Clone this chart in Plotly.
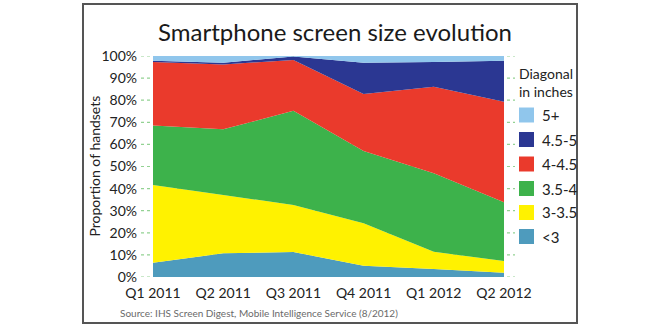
import plotly.graph_objects as go

quarters = ["Q1 2011", "Q2 2011", "Q3 2011", "Q4 2011", "Q1 2012", "Q2 2012"]
size_lt3 = [6.5, 10.7, 11.3, 5.1, 3.6, 1.9]
size_3_35 = [35.1, 26.4, 21.3, 19.2, 7.8, 5.3]
size_35_4 = [26.9, 29.7, 42.6, 32.7, 35.6, 26.6]
size_4_45 = [28.8, 29.4, 23.0, 25.8, 39.1, 45.5]
size_45_5 = [0.5, 0.7, 1.6, 14.2, 11.2, 18.6]
size_5p = [2.2, 3.1, 0.2, 3.0, 2.7, 2.1]

series_names = ["<3", "3-3.5", "3.5-4", "4-4.5", "4.5-5", "5+"]
series_values = [size_lt3, size_3_35, size_35_4, size_4_45, size_45_5, size_5p]
series_colors = ["#4e9bbd", "#fff200", "#3db24b", "#ea3a2c", "#2b3792", "#90c6ec"]

y_ticks = [0, 10, 20, 30, 40, 50, 60, 70, 80, 90, 100]
y_tick_text = [f"{v}%" for v in y_ticks]

FONT = "Lato"
# plot area in pixels
PL, PR, PT, PB = 153, 504, 56, 277


def px_x(p):
    return (p - PL) / (PR - PL)


def px_y(p):
    return (PB - p) / (PB - PT)


fig = go.Figure()

# stacked areas
for name, vals, col in zip(series_names, series_values, series_colors):
    fig.add_trace(go.Scatter(
        x=quarters, y=vals, name=name, stackgroup="one", mode="none",
        fill="tonexty", fillcolor=col, line=dict(width=0), showlegend=False,
        hoverinfo="x+y+name"))

# dashed green tick marks
for v in y_ticks:
    fig.add_shape(type="line", xref="paper", yref="y", x0=px_x(141), x1=px_x(515),
                  y0=v, y1=v, layer="below",
                  line=dict(color="#93d293", width=1.2, dash="3px,3px"))

# frame
fig.add_shape(type="rect", xref="paper", yref="paper",
              x0=px_x(83), x1=px_x(577), y0=px_y(323), y1=px_y(4),
              line=dict(color="#555555", width=2), fillcolor="rgba(0,0,0,0)",
              layer="above")

# legend (manual, top to bottom)
fig.add_annotation(text="Diagonal<br>in inches", xref="paper", yref="paper",
                   x=px_x(517), y=px_y(82), xanchor="left", yanchor="middle",
                   align="left", showarrow=False,
                   font=dict(family=FONT, size=14, color="#222"))
legend_y = [115, 139.5, 164, 188.5, 212.5, 236.5]
for (name, col), cy in zip(reversed(list(zip(series_names, series_colors))), legend_y):
    fig.add_shape(type="rect", xref="paper", yref="paper",
                  x0=px_x(519), x1=px_x(534), y0=px_y(cy + 7.5), y1=px_y(cy - 7.5),
                  line=dict(width=0), fillcolor=col)
    fig.add_annotation(text=name, xref="paper", yref="paper", x=px_x(540), y=px_y(cy),
                       xanchor="left", yanchor="middle", showarrow=False,
                       font=dict(family=FONT, size=15, color="#222"))

fig.add_annotation(text="Proportion of handsets", xref="paper", yref="paper",
                   x=px_x(94), y=0.5, textangle=-90, showarrow=False,
                   xanchor="center", yanchor="middle",
                   font=dict(family=FONT, size=14, color="#222"))

fig.add_annotation(text="Source: IHS Screen Digest, Mobile Intelligence Service (8/2012)",
                   xref="paper", yref="paper", x=px_x(118), y=px_y(313),
                   showarrow=False, xanchor="left", yanchor="middle",
                   font=dict(family=FONT, size=10, color="#6a6a6a"))

fig.update_layout(
    width=660, height=328,
    margin=dict(l=PL, r=660 - PR, t=PT, b=328 - PB),
    paper_bgcolor="white", plot_bgcolor="white",
    title=dict(text="Smartphone screen size evolution", x=335 / 660, xanchor="center",
               y=1 - 33 / 328, yanchor="middle",
               font=dict(family=FONT, size=24, color="#1a1a1a")),
    font=dict(family=FONT, color="#222"),
    xaxis=dict(type="category", range=[0, 5], showgrid=False, zeroline=False,
               showline=False, ticks="", ticklabelstandoff=6,
               tickfont=dict(family=FONT, size=14, color="#222")),
    yaxis=dict(range=[0, 100], tickvals=y_ticks, ticktext=y_tick_text,
               showgrid=False, zeroline=False, showline=False, ticks="",
               ticklabelstandoff=15,
               tickfont=dict(family=FONT, size=14, color="#222")),
    showlegend=False,
)

fig.write_html("out.html")
